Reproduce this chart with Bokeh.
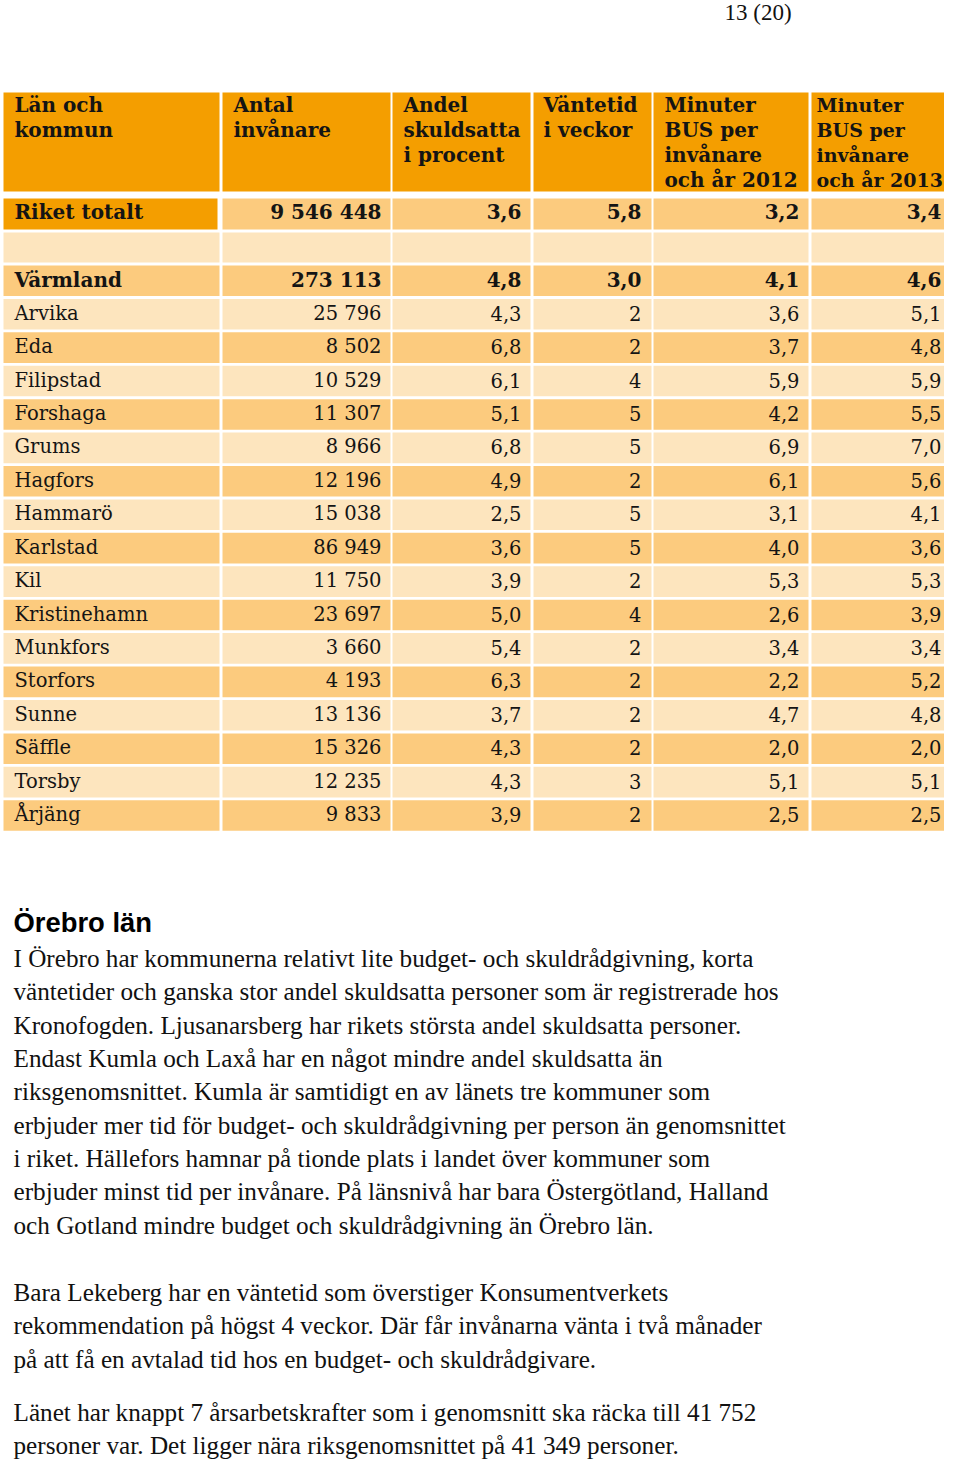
from bokeh.plotting import figure
from bokeh.models import Range1d
from bokeh.embed import file_html
from bokeh.resources import INLINE
from bokeh.core.properties import value

# ---------------- data ----------------
page_number = "13 (20)"
headers = [["Län och", "kommun"], ["Antal", "invånare"], ["Andel", "skuldsatta", "i procent"],
           ["Väntetid", "i veckor"], ["Minuter", "BUS per", "invånare", "och år 2012"],
           ["Minuter", "BUS per", "invånare", "och år 2013"]]

total_name = "Riket totalt"
total_values = [9546448, 3.6, 5.8, 3.2, 3.4]

region_name = "Värmland"
region_values = [273113, 4.8, 3.0, 4.1, 4.6]

kommuner = ["Arvika", "Eda", "Filipstad", "Forshaga", "Grums", "Hagfors", "Hammarö", "Karlstad",
            "Kil", "Kristinehamn", "Munkfors", "Storfors", "Sunne", "Säffle", "Torsby", "Årjäng"]
invanare = [25796, 8502, 10529, 11307, 8966, 12196, 15038, 86949, 11750, 23697, 3660, 4193,
            13136, 15326, 12235, 9833]
andel_skuldsatta = [4.3, 6.8, 6.1, 5.1, 6.8, 4.9, 2.5, 3.6, 3.9, 5.0, 5.4, 6.3, 3.7, 4.3, 4.3, 3.9]
vantetid = [2, 2, 4, 5, 5, 2, 5, 5, 2, 4, 2, 2, 2, 2, 3, 2]
bus_2012 = [3.6, 3.7, 5.9, 4.2, 6.9, 6.1, 3.1, 4.0, 5.3, 2.6, 3.4, 2.2, 4.7, 2.0, 5.1, 2.5]
bus_2013 = [5.1, 4.8, 5.9, 5.5, 7.0, 5.6, 4.1, 3.6, 5.3, 3.9, 3.4, 5.2, 4.8, 2.0, 5.1, 2.5]

heading = "Örebro län"
paragraphs = [
    ["I Örebro har kommunerna relativt lite budget- och skuldrådgivning, korta",
     "väntetider och ganska stor andel skuldsatta personer som är registrerade hos",
     "Kronofogden. Ljusanarsberg har rikets största andel skuldsatta personer.",
     "Endast Kumla och Laxå har en något mindre andel skuldsatta än",
     "riksgenomsnittet. Kumla är samtidigt en av länets tre kommuner som",
     "erbjuder mer tid för budget- och skuldrådgivning per person än genomsnittet",
     "i riket. Hällefors hamnar på tionde plats i landet över kommuner som",
     "erbjuder minst tid per invånare. På länsnivå har bara Östergötland, Halland",
     "och Gotland mindre budget och skuldrådgivning än Örebro län."],
    ["Bara Lekeberg har en väntetid som överstiger Konsumentverkets",
     "rekommendation på högst 4 veckor. Där får invånarna vänta i två månader",
     "på att få en avtalad tid hos en budget- och skuldrådgivare."],
    ["Länet har knappt 7 årsarbetskrafter som i genomsnitt ska räcka till 41 752",
     "personer var. Det ligger nära riksgenomsnittet på 41 349 personer."],
]

# ---------------- formatting ----------------
def fmt_int(n):
    return f"{n:,}".replace(",", " ")

def fmt_dec(x):
    return f"{x:.1f}".replace(".", ",")

# ---------------- layout ----------------
W, H = 944, 1459
ORANGE = "#F49E00"
MID = "#FCCB7E"
LIGHT = "#FDE5BE"
TXT = "#141414"
TABLE_FONT = "DejaVu Serif"
BODY_FS = "19.5px"
BOLD_FS = "20px"

col_left = [3, 222, 392, 533, 653, 811]
col_right = [219, 390, 530, 651, 808, 957]
text_right = [None, 381, 521, 641, 799, 941]
hdr_text_x = [14, 233, 403, 543, 664, 816]

p = figure(width=W, height=H, x_range=Range1d(0, W), y_range=Range1d(H, 0),
           output_backend="svg", toolbar_location=None, min_border=0)
p.axis.visible = False
p.grid.visible = False
p.outline_line_color = None
p.background_fill_color = "white"
p.border_fill_color = "white"

# page number
p.text(x=[724], y=[12], text=[page_number], text_font=value("Liberation Serif"),
       text_font_size="23px", text_baseline="middle", text_color="#111111")

# header cells
hdr_top, hdr_bot = 92, 191
p.quad(left=col_left, right=col_right, top=[hdr_top] * 6, bottom=[hdr_bot] * 6,
       fill_color=ORANGE, line_color=None)
hx, hy, ht = [], [], []
hx6, hy6, ht6 = [], [], []
for c, lines in enumerate(headers):
    for k, ln in enumerate(lines):
        if c == 5:
            hx6.append(hdr_text_x[c]); hy6.append(104 + 25 * k); ht6.append(ln)
        else:
            hx.append(hdr_text_x[c]); hy.append(104 + 25 * k); ht.append(ln)
p.text(x=hx, y=hy, text=ht, text_font=value(TABLE_FONT), text_font_size=BOLD_FS,
       text_font_style="bold", text_baseline="middle", text_color=TXT)
p.text(x=hx6, y=hy6, text=ht6, text_font=value(TABLE_FONT), text_font_size="19px",
       text_font_style="bold", text_baseline="middle", text_color=TXT)

# Riket totalt row
r_top, r_bot = 198, 229
p.quad(left=[3], right=[217], top=[r_top], bottom=[r_bot], fill_color=ORANGE, line_color=None)
p.quad(left=col_left[1:], right=col_right[1:], top=[r_top] * 5, bottom=[r_bot] * 5,
       fill_color=MID, line_color=None)
r_texts = [fmt_int(total_values[0])] + [fmt_dec(v) for v in total_values[1:]]
p.text(x=[14], y=[211], text=[total_name], text_font=value(TABLE_FONT), text_font_size=BOLD_FS,
       text_font_style="bold", text_baseline="middle", text_color=TXT)
p.text(x=text_right[1:], y=[211] * 5, text=r_texts, text_font=value(TABLE_FONT),
       text_font_size=BOLD_FS, text_font_style="bold", text_baseline="middle",
       text_align="right", text_color=TXT)

# blank row
p.quad(left=col_left, right=col_right, top=[232] * 6, bottom=[262] * 6,
       fill_color=LIGHT, line_color=None)

# data rows
names = [region_name] + kommuner
vals = [region_values] + [[invanare[i], andel_skuldsatta[i], vantetid[i], bus_2012[i], bus_2013[i]]
                          for i in range(len(kommuner))]
pitch = 33.42
row0 = 265
ql, qr, qt, qb, qc = [], [], [], [], []
nx, ny, nt = [], [], []
bx, by, bt, bvx, bvy, bvt = [], [], [], [], [], []
vx, vy, vt = [], [], []
for i, (nm, vv) in enumerate(zip(names, vals)):
    top = row0 + i * pitch
    bot = top + 30.6
    color = MID if i % 2 == 0 else LIGHT
    for c in range(6):
        ql.append(col_left[c]); qr.append(col_right[c]); qt.append(top); qb.append(bot); qc.append(color)
    yc = (top + bot) / 2 - 1
    if i == 0:
        bx.append(14); by.append(yc); bt.append(nm)
        texts = [fmt_int(vv[0])] + [fmt_dec(v) for v in vv[1:]]
        for c in range(1, 6):
            bvx.append(text_right[c]); bvy.append(yc); bvt.append(texts[c - 1])
    else:
        nx.append(14); ny.append(yc); nt.append(nm)
        texts = [fmt_int(vv[0]), fmt_dec(vv[1]), str(vv[2]), fmt_dec(vv[3]), fmt_dec(vv[4])]
        for c in range(1, 6):
            vx.append(text_right[c]); vy.append(yc); vt.append(texts[c - 1])

p.quad(left=ql, right=qr, top=qt, bottom=qb, fill_color=qc, line_color=None)

p.text(x=bx, y=by, text=bt, text_font=value(TABLE_FONT), text_font_size=BOLD_FS,
       text_font_style="bold", text_baseline="middle", text_color=TXT)
p.text(x=bvx, y=bvy, text=bvt, text_font=value(TABLE_FONT), text_font_size=BOLD_FS,
       text_font_style="bold", text_baseline="middle", text_align="right", text_color=TXT)
p.text(x=nx, y=ny, text=nt, text_font=value(TABLE_FONT), text_font_size=BODY_FS,
       text_baseline="middle", text_color=TXT)
p.text(x=vx, y=vy, text=vt, text_font=value(TABLE_FONT), text_font_size=BODY_FS,
       text_baseline="middle", text_align="right", text_color=TXT)

# heading and body text
p.text(x=[13], y=[922], text=[heading], text_font=value("Liberation Sans"),
       text_font_size="27.4px", text_font_style="bold", text_baseline="middle", text_color="#000000")
line_y_starts = [958, 1292, 1412]
lx, ly, lt = [], [], []
for y0, para in zip(line_y_starts, paragraphs):
    for k, ln in enumerate(para):
        lx.append(13); ly.append(y0 + 33.35 * k); lt.append(ln)
p.text(x=lx, y=ly, text=lt, text_font=value("Liberation Serif"), text_font_size="25.2px",
       text_baseline="middle", text_color="#111111")

open("out.html", "w").write(file_html(p, INLINE))
